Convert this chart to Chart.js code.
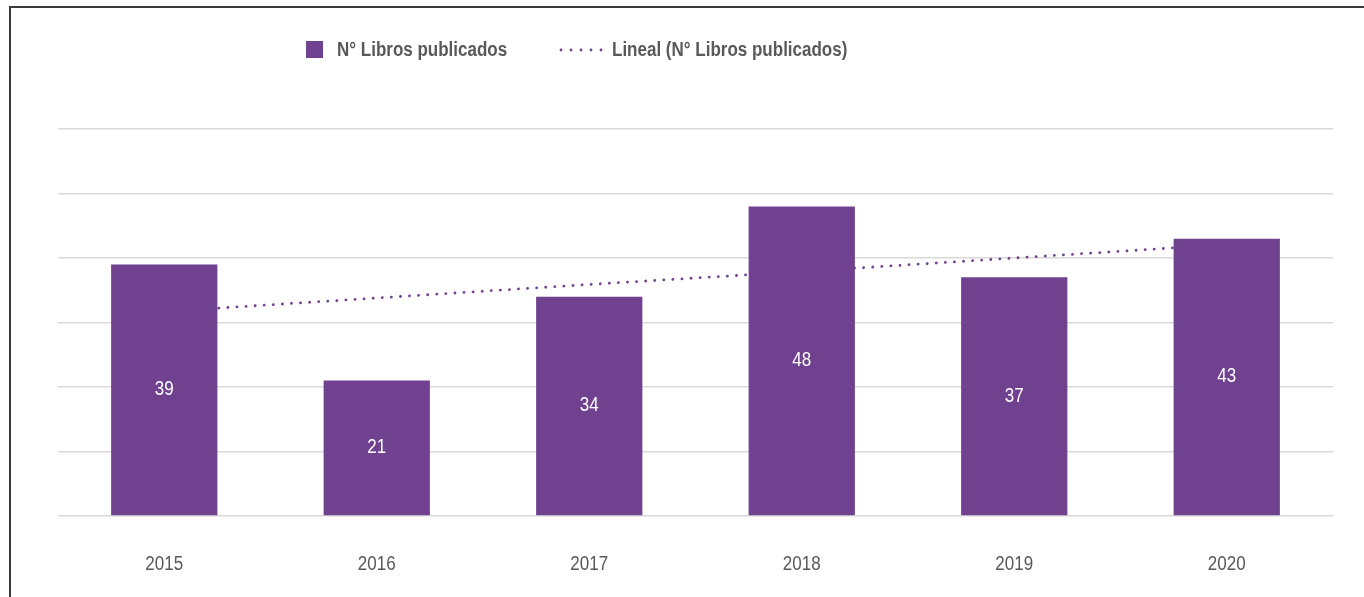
<!DOCTYPE html>
<html>
<head>
<meta charset="utf-8">
<script src="https://cdn.jsdelivr.net/npm/chart.js@4"></script>
<style>
    body { margin: 0; background: #ffffff; }
    #wrap { position: relative; width: 1364px; height: 597px; }
    #frame {
        position: absolute; left: 9px; top: 6px; right: 0; bottom: 0;
        border-left: 2px solid #3a3a3a; border-top: 2px solid #3a3a3a;
        pointer-events: none;
    }
</style>
</head>
<body>
<div id="wrap">
    <canvas id="librosChart"></canvas>
    <div id="frame"></div>
</div>
<script>
/* ---------------- Data ---------------- */

const years = ["2015", "2016", "2017", "2018", "2019", "2020"];
const librosPublicados = [39, 21, 34, 48, 37, 43];
// linear trend
const tendencia = [31.7, 33.8, 35.9, 37.9, 40.0, 42.1];

const BAR_LABEL = "N° Libros publicados";
const TREND_LABEL = "Lineal (N° Libros publicados)";

const PURPLE = "#6f418e";
const TEXT_GRAY = "#595959";
const FONT = "'Liberation Sans', Arial, sans-serif";
const NARROW = 0.85; // squeeze to look like Arial Narrow

/* ---------------- Helpers ---------------- */

function narrowText(ctx, text, x, y, align) {
    const w = ctx.measureText(text).width * NARROW;
    let left = x;
    if (align === "center") left = x - w / 2;
    ctx.save();
    ctx.translate(left, y);
    ctx.scale(NARROW, 1);
    ctx.textAlign = "left";
    ctx.fillText(text, 0, 0);
    ctx.restore();
}

/* ---------------- Plugins ---------------- */

const barValueLabels = {
    id: "barValueLabels",
    afterDatasetsDraw(chart) {
        const ctx = chart.ctx;
        const meta = chart.getDatasetMeta(0);
        ctx.save();
        ctx.fillStyle = "#ffffff";
        ctx.font = "20px " + FONT;
        ctx.textBaseline = "middle";
        meta.data.forEach((bar, i) => {
            const mid = (bar.y + bar.base) / 2;
            narrowText(ctx, String(librosPublicados[i]), bar.x, mid, "center");
        });
        ctx.restore();
    }
};

const yearLabels = {
    id: "yearLabels",
    afterDraw(chart) {
        const ctx = chart.ctx;
        const xs = chart.scales.x;
        ctx.save();
        ctx.fillStyle = TEXT_GRAY;
        ctx.font = "20px " + FONT;
        ctx.textBaseline = "middle";
        years.forEach((year, i) => {
            narrowText(ctx, year, xs.getPixelForValue(i), chart.chartArea.bottom + 48, "center");
        });
        ctx.restore();
    }
};

const customLegend = {
    id: "customLegend",
    afterDraw(chart) {
        const ctx = chart.ctx;
        const y = 50;
        ctx.save();
        ctx.font = "bold 20px " + FONT;
        ctx.textBaseline = "middle";

        ctx.fillStyle = PURPLE;
        ctx.fillRect(306, 41, 17, 17);
        ctx.fillStyle = TEXT_GRAY;
        narrowText(ctx, BAR_LABEL, 337, y, "left");

        ctx.fillStyle = PURPLE;
        for (let i = 0; i < 5; i++) {
            ctx.beginPath();
            ctx.arc(561 + i * 10, y, 1.4, 0, Math.PI * 2);
            ctx.fill();
        }
        ctx.fillStyle = TEXT_GRAY;
        narrowText(ctx, TREND_LABEL, 612, y, "left");
        ctx.restore();
    }
};

/* ---------------- Chart ---------------- */

new Chart(document.getElementById("librosChart"), {
    data: {
        labels: years,
        datasets: [
            {
                type: "bar",
                label: BAR_LABEL,
                data: librosPublicados,
                backgroundColor: PURPLE,
                barPercentage: 0.5,
                categoryPercentage: 1.0,
                order: 1
            },
            {
                type: "line",
                label: TREND_LABEL,
                data: tendencia,
                borderColor: PURPLE,
                borderWidth: 2.8,
                borderDash: [0.1, 9],
                borderCapStyle: "round",
                pointRadius: 0,
                fill: false,
                order: 2
            }
        ]
    },
    options: {
        responsive: true,
        maintainAspectRatio: false,
        animation: false,
        layout: { padding: { left: 58, right: 31, top: 129, bottom: 21 } },
        plugins: {
            legend: { display: false },
            tooltip: { enabled: false }
        },
        scales: {
            x: {
                grid: { display: false },
                border: { display: false },
                ticks: { display: false },
                afterFit(scale) { scale.height = 60; }
            },
            y: {
                min: 0,
                max: 60,
                ticks: { display: false, stepSize: 10 },
                grid: { color: "#d9d9d9", lineWidth: 1.5, drawTicks: false },
                border: { display: false },
                afterFit(scale) { scale.width = 0; }
            }
        }
    },
    plugins: [barValueLabels, yearLabels, customLegend]
});
</script>
</body>
</html>
